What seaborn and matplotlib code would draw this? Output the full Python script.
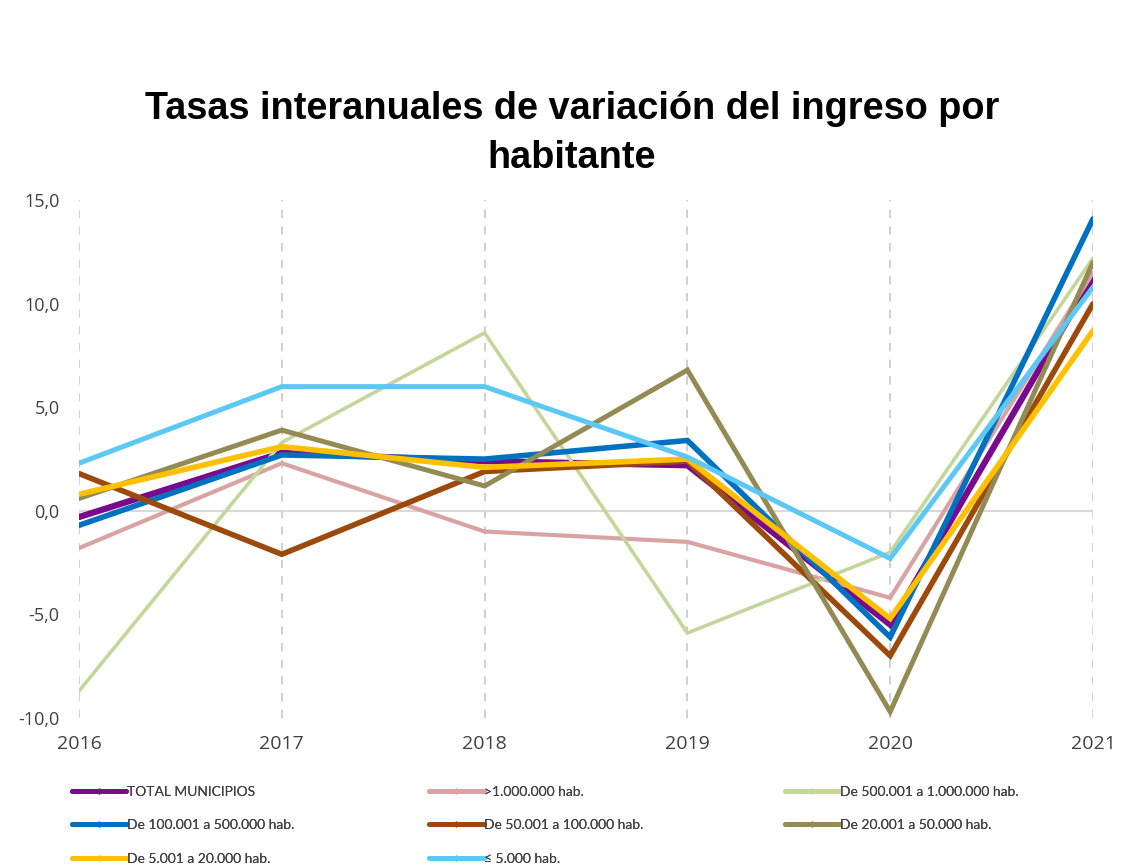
import matplotlib
matplotlib.use("Agg")
import matplotlib.pyplot as plt
from matplotlib.lines import Line2D
from matplotlib.ticker import FuncFormatter
import seaborn as sns
import pandas as pd

years = [2016, 2017, 2018, 2019, 2020, 2021]

series_names = [
    "TOTAL MUNICIPIOS",
    ">1.000.000 hab.",
    "De 500.001 a 1.000.000 hab.",
    "De 100.001 a 500.000 hab.",
    "De 50.001 a 100.000 hab.",
    "De 20.001 a 50.000 hab.",
    "De 5.001 a 20.000 hab.",
    "\u2264 5.000 hab.",
]

total_municipios = [-0.3, 2.8, 2.4, 2.2, -5.5, 11.3]
mas_1000000 = [-1.8, 2.3, -1.0, -1.5, -4.2, 11.5]
de_500001 = [-8.7, 3.3, 8.6, -5.9, -2.0, 12.2]
de_100001 = [-0.7, 2.7, 2.5, 3.4, -6.1, 14.1]
de_50001 = [1.8, -2.1, 1.9, 2.4, -7.0, 10.0]
de_20001 = [0.6, 3.9, 1.2, 6.8, -9.7, 12.0]
de_5001 = [0.8, 3.1, 2.1, 2.5, -5.2, 8.7]
hasta_5000 = [2.3, 6.0, 6.0, 2.6, -2.3, 10.8]

values = [total_municipios, mas_1000000, de_500001, de_100001,
          de_50001, de_20001, de_5001, hasta_5000]

colors = ["#7A0A8C", "#D9A3A3", "#C4D79B", "#0070C0",
          "#9C4A0C", "#948A54", "#FFC000", "#5BC8F5"]
widths = [4.5, 3.0, 2.6, 4.0, 4.0, 3.6, 4.0, 3.6]

rows = []
for name, vals in zip(series_names, values):
    for y, v in zip(years, vals):
        rows.append({"year": y, "value": v, "serie": name})
df = pd.DataFrame(rows)

sns.set_theme(style="white")
plt.rcParams["font.family"] = ["Open Sans", "DejaVu Sans"]

fig = plt.figure(figsize=(11.21, 8.67), dpi=100)
ax = fig.add_axes([0.0705, 0.172, 0.9045, 0.597])

# reference lines: dashed verticals per year, solid zero line
for y in years:
    ax.axvline(y, color="#C8C8C8", lw=1.2, ls=(0, (5, 5)), zorder=0)
ax.axhline(0, color="#D9D9D9", lw=1.5, zorder=0)

sns.lineplot(data=df, x="year", y="value", hue="serie",
             hue_order=series_names, palette=colors, ax=ax,
             legend=False, estimator=None, sort=False)
for line, lw in zip(ax.get_lines()[-len(series_names):], widths):
    line.set_linewidth(lw)
    line.set_solid_joinstyle("miter")

ax.set_xlim(2016, 2021)
ax.set_ylim(-10, 15)
ax.set_xticks(years)
ax.set_yticks([-10, -5, 0, 5, 10, 15])
ax.yaxis.set_major_formatter(FuncFormatter(lambda v, p: f"{v:.1f}".replace(".", ",")))
ax.tick_params(axis="x", labelsize=14, labelcolor="#404040", pad=12, length=0)
ax.tick_params(axis="y", labelsize=13, labelcolor="#404040", pad=14, length=0)
ax.set_xlabel("")
ax.set_ylabel("")
for s in ax.spines.values():
    s.set_visible(False)

fig.text(0.51, 0.806, "Tasas interanuales de variación del ingreso por\nhabitante",
         ha="center", va="baseline", fontsize=27.3, fontweight="bold",
         family=["Liberation Sans", "DejaVu Sans"], color="#000000",
         linespacing=1.48, multialignment="center")

# legend: three columns, filled row by row
handles = [Line2D([0], [0], color=c, lw=3.5, marker="D", markersize=2.5)
           for c in colors]
col_x = [0.064, 0.383, 0.700]
for col, x0 in enumerate(col_x):
    idx = list(range(col, len(series_names), 3))
    leg = fig.legend([handles[i] for i in idx], [series_names[i] for i in idx],
                     loc="upper left", bbox_to_anchor=(x0, 0.094),
                     frameon=False, handlelength=3.9, handletextpad=0.05,
                     labelspacing=1.57, borderpad=0, borderaxespad=0,
                     prop={"family": ["Lato", "DejaVu Sans"], "size": 10})
    for t in leg.get_texts():
        t.set_color("#404040")
    fig.add_artist(leg)

fig.savefig("out.png", dpi=100)
